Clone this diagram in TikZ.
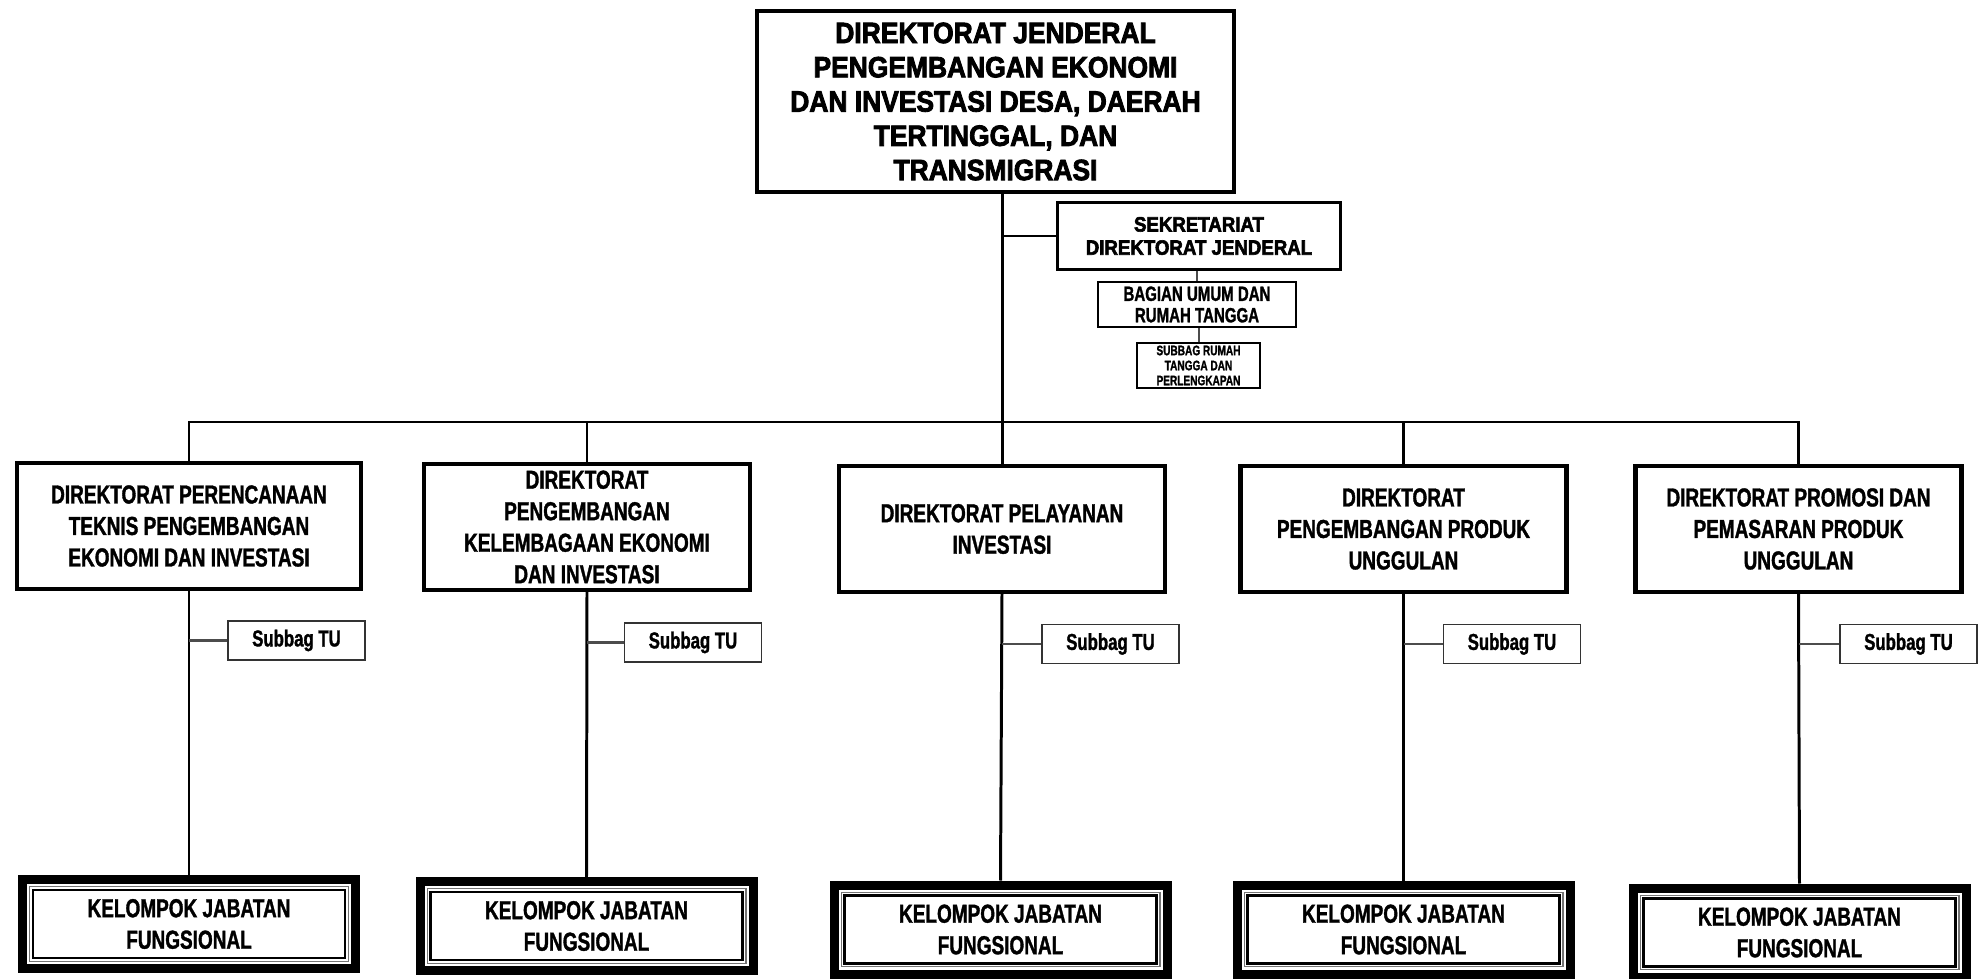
\documentclass[tikz,border=0pt]{standalone}
\usepackage{fontspec}
\setmainfont{Liberation Sans}
\newfontfamily\headfont{Liberation Sans}[FakeStretch=0.9, FakeBold=2.8]
\newfontfamily\narrowfont{Liberation Sans}[FakeStretch=0.73, FakeBold=1.3]

\begin{document}
\begin{tikzpicture}[
        box/.style = {
            draw,
            rectangle,
            align = center,
            inner sep = 0pt,
        },
        dirjen/.style = {
            box, line width = 1.15pt,
            minimum width = 4.77cm, minimum height = 1.81cm,
            font = \headfont\bfseries\fontsize{8.35}{9.75}\selectfont,
        },
        sekbox/.style = {
            box, line width = 0.85pt,
            minimum width = 2.83cm, minimum height = 0.67cm,
            font = \headfont\bfseries\fontsize{5.9}{6.6}\selectfont,
        },
        bagbox/.style = {
            box, line width = 0.55pt,
            minimum height = 0.45cm,
            font = \narrowfont\bfseries\fontsize{5.86}{6.1}\selectfont,
        },
        dirbox/.style = {
            box, line width = 1.15pt,
            minimum width = 3.26cm, minimum height = 1.26cm,
            font = \narrowfont\bfseries\fontsize{7.4}{8.96}\selectfont,
        },
        tubox/.style = {
            box, line width = 0.55pt, draw = black!80,
            minimum width = 1.37cm, minimum height = 0.39cm,
            font = \narrowfont\bfseries\fontsize{6.54}{7.5}\selectfont,
        },
        kjf/.style = {
            box, line width = 2.56pt,
            minimum width = 3.33cm, minimum height = 0.89cm,
            font = \narrowfont\bfseries\fontsize{7.4}{8.96}\selectfont,
            path picture = {
                \draw[black!55, line width = 0.3pt]
                    ([shift={(2pt,-2pt)}]path picture bounding box.north west)
                    rectangle ([shift={(-2pt,2pt)}]path picture bounding box.south east);
                \draw[line width = 0.7pt]
                    ([shift={(3.05pt,-3.05pt)}]path picture bounding box.north west)
                    rectangle ([shift={(-3.05pt,3.05pt)}]path picture bounding box.south east);
            },
        },
        bus/.style  = {line width = 0.85pt},
        thin/.style = {line width = 0.57pt, black!70},
    ]
    \useasboundingbox (0,0) rectangle (19.79,-9.79);

    \node[dirjen] (dg) at (9.955, -1.015)
        {DIREKTORAT JENDERAL\\PENGEMBANGAN EKONOMI\\DAN INVESTASI DESA, DAERAH\\TERTINGGAL, DAN\\TRANSMIGRASI};
    \node[sekbox] (sek) at (11.99, -2.36) {SEKRETARIAT\\DIREKTORAT JENDERAL};
    \node[bagbox, minimum width = 1.98cm] (bag) at (11.97, -3.045) {BAGIAN UMUM DAN\\RUMAH TANGGA};
    \node[bagbox, minimum width = 1.23cm, line width = 0.45pt,
          font = \narrowfont\bfseries\fontsize{3.93}{4.27}\selectfont]
        (rt) at (11.985, -3.655) {SUBBAG RUMAH\\TANGGA DAN\\PERLENGKAPAN};

    \node[dirbox, minimum width = 3.44cm] (d1) at ( 1.89,  -5.26)
        {DIREKTORAT PERENCANAAN\\TEKNIS PENGEMBANGAN\\EKONOMI DAN INVESTASI};
    \node[dirbox] (d2) at ( 5.87,  -5.27)
        {DIREKTORAT\\PENGEMBANGAN\\KELEMBAGAAN EKONOMI\\DAN INVESTASI};
    \node[dirbox] (d3) at (10.02,  -5.29) {DIREKTORAT PELAYANAN\\INVESTASI};
    \node[dirbox] (d4) at (14.035, -5.29)
        {DIREKTORAT\\PENGEMBANGAN PRODUK\\UNGGULAN};
    \node[dirbox] (d5) at (17.985, -5.29)
        {DIREKTORAT PROMOSI DAN\\PEMASARAN PRODUK\\UNGGULAN};

    \node[tubox] (s1) at ( 2.965, -6.405) {Subbag TU};
    \node[tubox] (s2) at ( 6.93,  -6.425) {Subbag TU};
    \node[tubox] (s3) at (11.105, -6.44)  {Subbag TU};
    \node[tubox] (s4) at (15.12,  -6.44)  {Subbag TU};
    \node[tubox] (s5) at (19.085, -6.44)  {Subbag TU};

    \node[kjf] (k1) at ( 1.89,  -9.24)  {KELOMPOK JABATAN\\FUNGSIONAL};
    \node[kjf] (k2) at ( 5.865, -9.26)  {KELOMPOK JABATAN\\FUNGSIONAL};
    \node[kjf] (k3) at (10.005, -9.295) {KELOMPOK JABATAN\\FUNGSIONAL};
    \node[kjf] (k4) at (14.035, -9.295) {KELOMPOK JABATAN\\FUNGSIONAL};
    \node[kjf] (k5) at (17.995, -9.325) {KELOMPOK JABATAN\\FUNGSIONAL};

    \coordinate (bus) at (0, -4.22);

    % top part
    \draw[bus] (dg.south -| d3.north) -- (d3.north);
    \draw[bus] (sek.west) -- (sek.west -| d3.north);
    \draw[thin] (bag.north) -- (bag.north |- sek.south);
    \draw[thin] (rt.north) -- (rt.north |- bag.south);

    % bus to the directorates
    \draw[bus] (d1.north) -- (d1.north |- bus) -- (d5.north |- bus) -- (d5.north);
    \draw[bus] (d2.north) -- (d2.north |- bus);
    \draw[bus] (d4.north) -- (d4.north |- bus);

    % down to the functional groups
    \draw[bus] (d1.south) -- (k1.north);
    \draw[bus] (d2.south) -- (k2.north);
    \draw[bus] (d3.south) -- (k3.north);
    \draw[bus] (d4.south) -- (k4.north);
    \draw[bus] (d5.south) -- (k5.north);

    \draw[thin] (s1.west) -- (s1.west -| d1.south);
    \draw[thin] (s2.west) -- (s2.west -| d2.south);
    \draw[thin] (s3.west) -- (s3.west -| d3.south);
    \draw[thin] (s4.west) -- (s4.west -| d4.south);
    \draw[thin] (s5.west) -- (s5.west -| d5.south);
\end{tikzpicture}
\end{document}
